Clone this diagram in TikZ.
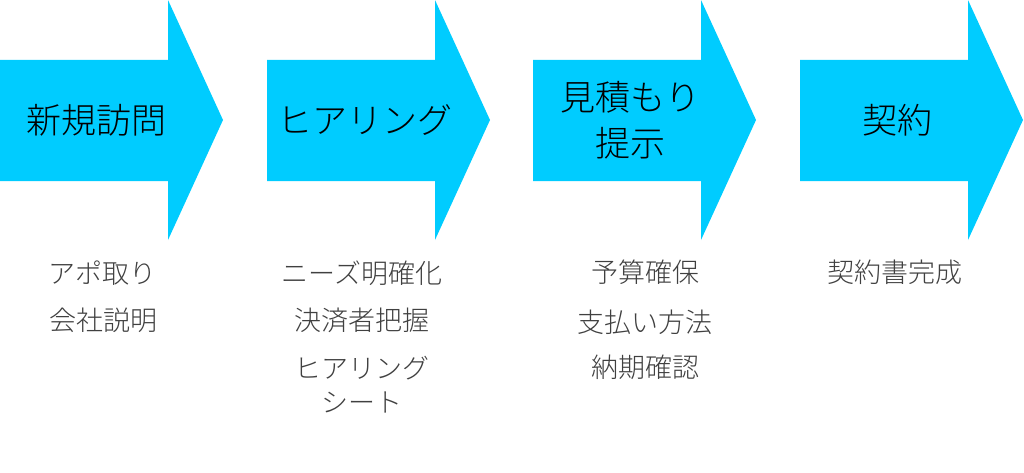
\documentclass[tikz,border=0pt]{standalone}
\usepackage{fontspec}
\setmainfont{Noto Sans CJK JP}[UprightFont={* Light}]
\definecolor{arrowcyan}{HTML}{00CCFF}
\definecolor{subgray}{HTML}{404040}
\tikzset{
  x=1pt, y=-1pt,
  flowarrow/.style={fill=arrowcyan, draw=none},
  mainlabel/.style={font=\fontsize{35}{46}\selectfont, text=black, align=center, inner sep=0pt},
  sublabel/.style={font=\fontsize{27}{34}\selectfont, text=subgray, align=center, inner sep=0pt}
}
\newcommand{\flowshape}[1]{%
  \fill[flowarrow] (#1,60) -- (#1+168,60) -- (#1+168,0) -- (#1+223,120) -- (#1+168,240) -- (#1+168,181) -- (#1,181) -- cycle;}
\begin{document}
\begin{tikzpicture}
\useasboundingbox (0,0) rectangle (1024,473);
\flowshape{0}
\flowshape{267}
\flowshape{533}
\flowshape{800}
\node[mainlabel] (m1) at (96,120) {新規訪問};
\node[mainlabel] (m2) at (365,120) {ヒアリング};
\node[mainlabel] (m3) at (630,120) {見積もり\\提示};
\node[mainlabel] (m4) at (897,120) {契約};
\node[sublabel] (a1) at (102,273) {アポ取り};
\node[sublabel] (a2) at (103,320) {会社説明};
\node[sublabel] (b1) at (362,273) {ニーズ明確化};
\node[sublabel] (b2) at (362,320) {決済者把握};
\node[sublabel] (b3) at (362,385) {ヒアリング\\シート};
\node[sublabel] (c1) at (645,272) {予算確保};
\node[sublabel] (c2) at (645,322) {支払い方法};
\node[sublabel] (c3) at (645,367) {納期確認};
\node[sublabel] (d1) at (895,272) {契約書完成};
\end{tikzpicture}
\end{document}
